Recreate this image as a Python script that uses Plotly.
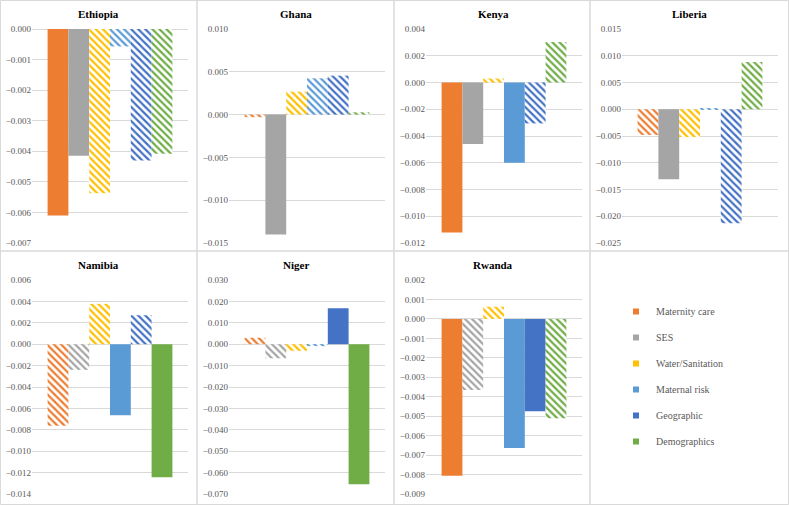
import plotly.graph_objects as go

countries = ["Ethiopia", "Ghana", "Kenya", "Liberia", "Namibia", "Niger", "Rwanda"]
factors = ["Maternity care", "SES", "Water/Sanitation", "Maternal risk", "Geographic", "Demographics"]
colors = ["#ED7D31", "#A5A5A5", "#FFC000", "#5B9BD5", "#4472C4", "#70AD47"]

maternity_care = [-0.0061, -0.0003, -0.01122, -0.0048, -0.00763, 0.0030, -0.00806]
ses = [-0.00415, -0.0140, -0.0046, -0.0131, -0.0024, -0.0066, -0.00365]
water_sanitation = [-0.00537, 0.00268, 0.0003, -0.0052, 0.00377, -0.0031, 0.00063]
maternal_risk = [-0.00057, 0.00424, -0.0060, 0.0001, -0.00664, -0.0009, -0.00664]
geographic = [-0.0043, 0.00455, -0.00306, -0.0213, 0.00271, 0.0168, -0.00475]
demographics = [-0.00408, 0.00027, 0.00303, 0.00883, -0.01243, -0.0654, -0.00511]

# 1 = solid bar, 0 = hatched bar
solid_maternity_care = [1, 0, 1, 0, 0, 0, 1]
solid_ses = [1, 1, 1, 1, 0, 0, 0]
solid_water_sanitation = [0, 0, 0, 0, 0, 0, 0]
solid_maternal_risk = [0, 0, 1, 0, 1, 0, 1]
solid_geographic = [0, 0, 0, 0, 0, 1, 1]
solid_demographics = [0, 0, 0, 0, 1, 1, 0]

y_min = [-0.007, -0.015, -0.012, -0.025, -0.014, -0.070, -0.009]
y_max = [0.000, 0.010, 0.004, 0.015, 0.006, 0.030, 0.002]
y_step = [0.001, 0.005, 0.002, 0.005, 0.002, 0.010, 0.001]

series = [maternity_care, ses, water_sanitation, maternal_risk, geographic, demographics]
solids = [solid_maternity_care, solid_ses, solid_water_sanitation,
          solid_maternal_risk, solid_geographic, solid_demographics]

W, H = 789, 505
panel_left = [0.5, 197, 394, 590]
panel_right = [197, 394, 590, 788.5]
row_top = [0.5, 251]
row_bottom = [251, 504.5]
FONT = "Liberation Serif"
GRID = "#D9D9D9"

fig = go.Figure()
layout = dict(
    template="none",
    width=W, height=H, margin=dict(l=0, r=0, t=0, b=0),
    paper_bgcolor="white", plot_bgcolor="white",
    barmode="group", bargap=0.2, bargroupgap=0,
    font=dict(family=FONT, color="#595959"),
    showlegend=True,
)
annotations = []
shapes = []

for i, c in enumerate(countries):
    r, col = divmod(i, 4)
    L = [0, 197, 394, 590][col]
    T = [0, 251][r]
    ax = "" if i == 0 else str(i + 1)
    for j, f in enumerate(factors):
        solid = solids[j][i] == 1
        marker = dict(color=colors[j], line=dict(width=0))
        if not solid:
            marker["pattern"] = dict(shape="\\", fgcolor=colors[j], bgcolor="white",
                                     size=5, solidity=0.45, fillmode="replace")
        fig.add_trace(go.Bar(x=[c], y=[series[j][i]], name=f, marker=marker,
                             xaxis="x" + ax, yaxis="y" + ax, showlegend=False,
                             hoverinfo="name+y"))
    layout["xaxis" + ax] = dict(
        domain=[(L + 32) / W, (L + 188) / W], anchor="y" + ax,
        showticklabels=False, showgrid=False, zeroline=False, fixedrange=True,
        showline=False, ticks="",
    )
    layout["yaxis" + ax] = dict(
        domain=[1 - (T + 243) / H, 1 - (T + 29) / H], anchor="x" + ax,
        range=[y_min[i], y_max[i]], dtick=y_step[i], tick0=0,
        tickformat=".3f", showgrid=True, gridcolor=GRID, gridwidth=1,
        zeroline=True, zerolinecolor=GRID, zerolinewidth=1,
        tickfont=dict(family=FONT, size=9, color="#595959"), ticks="",
        showline=False, fixedrange=True,
    )
    annotations.append(dict(text="<b>%s</b>" % c, x=(L + 99) / W, y=1 - (T + 14) / H,
                            xref="paper", yref="paper", showarrow=False,
                            font=dict(family=FONT, size=11, color="black"),
                            xanchor="center", yanchor="middle"))

# legend entries
for j, f in enumerate(factors):
    fig.add_trace(go.Scatter(x=[None], y=[None], mode="markers", name=f,
                             marker=dict(symbol="square", size=6, color=colors[j]),
                             xaxis="x", yaxis="y", showlegend=True, legendgroup=f))

for r in range(2):
    for col in range(4):
        shapes.append(dict(type="rect", xref="paper", yref="paper",
                           x0=panel_left[col] / W, x1=panel_right[col] / W,
                           y0=1 - row_bottom[r] / H, y1=1 - row_top[r] / H,
                           line=dict(color=GRID, width=1)))

layout["annotations"] = annotations
layout["shapes"] = shapes
layout["legend"] = dict(x=616 / W, y=1 - 297 / H, xanchor="left", yanchor="top",
                        font=dict(family=FONT, size=10, color="#595959"),
                        tracegroupgap=7, itemsizing="trace",
                        bgcolor="rgba(0,0,0,0)")
fig.update_layout(**layout)
fig.write_html("out.html", config={"displayModeBar": False},
               post_script="document.body.style.margin='0px';document.body.style.padding='0px';")
